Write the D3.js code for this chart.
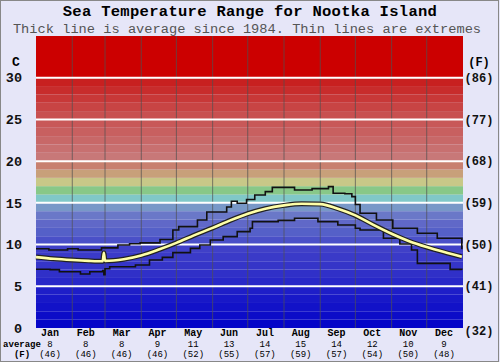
<!DOCTYPE html>
<html>
<head>
<meta charset="utf-8">
<script src="https://cdn.jsdelivr.net/npm/d3@7"></script>
<style>
  body { margin: 0; background: #e6e6f8; }
  svg { display: block; }
</style>
</head>
<body>
<script>
// month labels and the averages printed under them
const months = ["Jan","Feb","Mar","Apr","May","Jun","Jul","Aug","Sep","Oct","Nov","Dec"];
const avgC = ["8","8","8","9","11","13","14","15","14","12","10","9"];
const avgF = ["(46)","(46)","(46)","(46)","(52)","(55)","(57)","(59)","(57)","(54)","(50)","(48)"];
const monthStart = [0,31,59,90,120,151,181,212,243,273,304,334,365];

// tick labels, celsius on the left, fahrenheit on the right
const ticksC = [0,5,10,15,20,25,30];
const ticksF = ["(32)","(41)","(50)","(59)","(68)","(77)","(86)"];

// average line: [day of year, deg C]
const avgDay = [0,15,31,45,57,58,59,75,90,105,120,135,151,166,181,196,212,227,243,258,273,288,304,319,334,349,364];
const avgVal = [8.5,8.3,8.15,8.05,8.0,9.0,8.05,8.25,8.7,9.4,10.2,11.1,12.0,12.9,13.7,14.3,14.7,14.9,14.85,14.3,13.5,12.4,11.3,10.4,9.7,9.1,8.55];

// maximum line (stepped)
const maxDay = [0,11,27,36,56,70,80,89,106,117,122,138,146,163,167,172,180,187,196,202,221,236,250,254,264,270,273,277,291,305,326,343,364];
const maxVal = [9.5,9.35,9.5,9.35,9.6,9.95,10.1,10.2,10.6,11.75,12.15,12.95,13.9,14.5,15.2,14.95,15.4,15.95,16.35,16.85,16.55,16.7,16.95,16.15,16.1,15.75,14.8,13.75,12.95,11.95,11.35,10.75,9.45];

// minimum line (stepped)
const minDay = [0,12,20,38,46,57,58,59,63,85,97,108,117,132,140,149,160,172,183,185,196,207,221,236,241,258,273,277,297,311,321,326,343,354,364];
const minVal = [7.05,7.0,6.75,6.47,6.75,6.9,6.4,7.1,7.35,7.55,8.15,8.47,9.03,9.55,9.95,10.55,10.95,11.55,11.95,12.75,12.75,12.9,13.15,13.15,12.75,12.35,11.95,11.75,10.75,10.07,9.35,7.75,7.75,7.03,6.95];

// one colour per degree band, 0..29, then solid red to the top
const bandColors = ["#0505c8","#0c0cc8","#1212c8","#1818c8","#1e1ec8","#2828c8","#3030c8","#3535c8","#3a3ac8","#4040c8",
  "#4a50c8","#5560c8","#6068c8","#6a78c8","#7898c8","#80c8c8","#88c888","#c8c888","#c8a07a","#c88070",
  "#c87878","#c87070","#c86868","#c86060","#c85858","#c85050","#c84444","#c83838","#c82c2c","#c82020"];

const width = 500, height = 362;
const font = "'Liberation Mono', 'Courier New', monospace";

const svg = d3.select("body").append("svg")
    .attr("width", width)
    .attr("height", height);

// frame
svg.append("rect")
    .attr("x", 0.5).attr("y", 0.5)
    .attr("width", width - 2).attr("height", height - 1)
    .attr("fill", "#e6e6f8")
    .attr("stroke", "#888");

const x = d3.scaleLinear().domain([0, 365]).range([36, 463]);
const y = d3.scaleLinear().domain([0, 35]).range([328, 36]);
const xm = d3.scalePoint().domain(months).range([50, 444]);

// colour bands
svg.append("rect")
    .attr("x", x(0)).attr("y", y(35))
    .attr("width", x(365) - x(0)).attr("height", y(30) - y(35))
    .attr("fill", "#cc0000");
svg.selectAll(".band")
    .data(bandColors)
    .enter().append("rect")
    .attr("class", "band")
    .attr("x", x(0))
    .attr("y", (d, i) => y(i + 1))
    .attr("width", x(365) - x(0))
    .attr("height", (d, i) => y(i) - y(i + 1))
    .attr("fill", d => d);

// month separators
svg.selectAll(".vgrid")
    .data(monthStart.slice(1, 12))
    .enter().append("line")
    .attr("x1", d => x(d)).attr("x2", d => x(d))
    .attr("y1", y(35)).attr("y2", y(0))
    .attr("stroke", "#505050")
    .attr("stroke-opacity", 0.7)
    .attr("stroke-width", 1);

// white horizontal grid
svg.selectAll(".hgrid")
    .data(ticksC.slice(1))
    .enter().append("line")
    .attr("x1", x(0)).attr("x2", x(365))
    .attr("y1", d => y(d)).attr("y2", d => y(d))
    .attr("stroke", "#fff")
    .attr("stroke-width", 2);

// extremes
const step = d3.line().curve(d3.curveStepAfter).x(d => x(d[0])).y(d => y(d[1]));
[d3.zip(maxDay, maxVal), d3.zip(minDay, minVal)].forEach(pts => {
  svg.append("path")
      .attr("d", step(pts))
      .attr("fill", "none")
      .attr("stroke", "#111")
      .attr("stroke-width", 1.6);
});

// average: dark outline then yellow
const smooth = d3.line().curve(d3.curveMonotoneX).x(d => x(d[0])).y(d => y(d[1]));
const avgPts = d3.zip(avgDay, avgVal);
svg.append("path")
    .attr("d", smooth(avgPts))
    .attr("fill", "none")
    .attr("stroke", "#222")
    .attr("stroke-width", 5);
svg.append("path")
    .attr("d", smooth(avgPts))
    .attr("fill", "none")
    .attr("stroke", "#ffffa8")
    .attr("stroke-width", 2.6);

// titles
svg.append("text")
    .attr("x", 250).attr("y", 16)
    .attr("text-anchor", "middle")
    .style("font", `bold 15.5px ${font}`)
    .style("letter-spacing", "0.3px")
    .style("fill", "#000")
    .text("Sea Temperature Range for Nootka Island");
svg.append("text")
    .attr("x", 247).attr("y", 32.5)
    .attr("text-anchor", "middle")
    .style("font", `13.7px ${font}`)
    .style("fill", "#555")
    .text("Thick line is average since 1984. Thin lines are extremes");

// axis unit labels
svg.append("text")
    .attr("x", 16).attr("y", 66)
    .attr("text-anchor", "middle")
    .style("font", `bold 13px ${font}`)
    .text("C");
svg.append("text")
    .attr("x", 479).attr("y", 66)
    .attr("text-anchor", "middle")
    .style("font", `bold 12px ${font}`)
    .text("(F)");

// celsius ticks
svg.selectAll(".tc")
    .data(ticksC)
    .enter().append("text")
    .attr("x", 22)
    .attr("y", d => y(d))
    .attr("dy", "0.35em")
    .attr("text-anchor", "end")
    .style("font", `bold 13.5px ${font}`)
    .style("fill", "#111")
    .text(d => d);

// fahrenheit ticks
svg.selectAll(".tf")
    .data(ticksF)
    .enter().append("text")
    .attr("x", 479)
    .attr("y", (d, i) => y(ticksC[i]) + (i === 0 ? 3 : 0))
    .attr("dy", "0.35em")
    .attr("text-anchor", "middle")
    .style("font", `bold 12px ${font}`)
    .style("fill", "#111")
    .text(d => d);

// month labels with averages
svg.selectAll(".mon")
    .data(months)
    .enter().append("text")
    .attr("x", d => xm(d)).attr("y", 336)
    .attr("text-anchor", "middle")
    .style("font", `bold 10px ${font}`)
    .text(d => d);
svg.selectAll(".mc")
    .data(avgC)
    .enter().append("text")
    .attr("x", (d, i) => xm(months[i])).attr("y", 346.5)
    .attr("text-anchor", "middle")
    .style("font", `9px ${font}`)
    .text(d => d);
svg.selectAll(".mf")
    .data(avgF)
    .enter().append("text")
    .attr("x", (d, i) => xm(months[i])).attr("y", 357)
    .attr("text-anchor", "middle")
    .style("font", `9px ${font}`)
    .text(d => d);

svg.append("text")
    .attr("x", 22).attr("y", 346.5)
    .attr("text-anchor", "middle")
    .style("font", `bold 9px ${font}`)
    .text("average");
svg.append("text")
    .attr("x", 22).attr("y", 357)
    .attr("text-anchor", "middle")
    .style("font", `bold 9px ${font}`)
    .text("(F)");
</script>
</body>
</html>
